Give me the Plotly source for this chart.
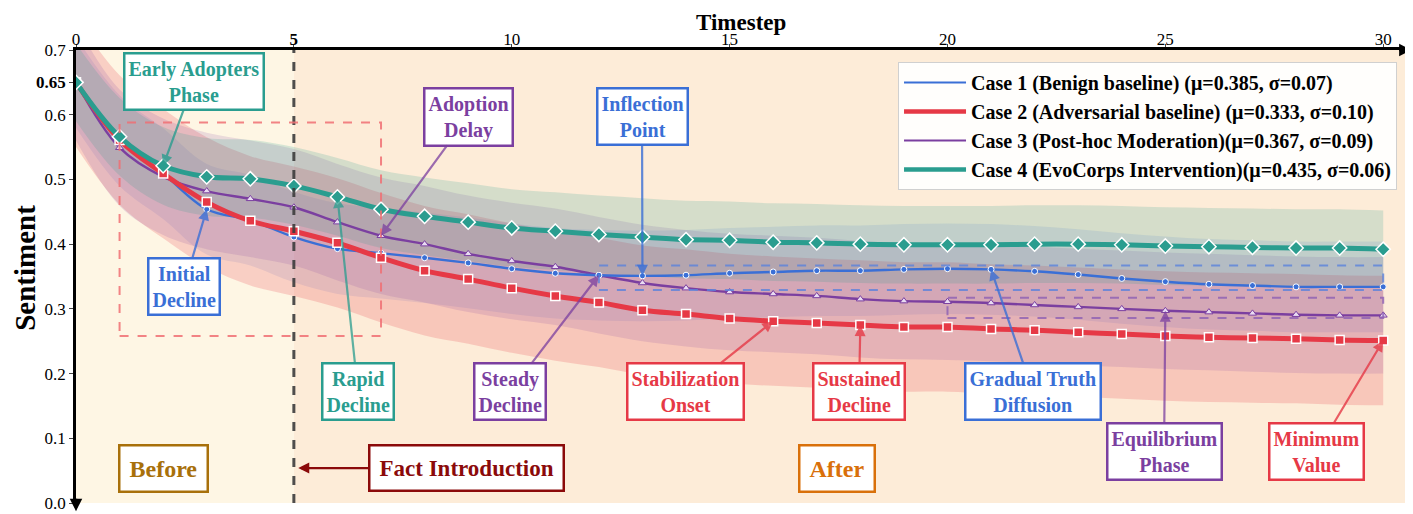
import plotly.graph_objects as go

timesteps = list(range(31))
case1 = [0.65, 0.56, 0.509, 0.454, 0.437, 0.411, 0.393, 0.386, 0.379, 0.371, 0.362, 0.355, 0.352, 0.351, 0.352,
         0.355, 0.357, 0.359, 0.359, 0.361, 0.362, 0.361, 0.358, 0.353, 0.347, 0.342, 0.338, 0.336, 0.334, 0.334, 0.334]
case2 = [0.65, 0.561, 0.509, 0.465, 0.436, 0.420, 0.402, 0.379, 0.359, 0.346, 0.332, 0.320, 0.310, 0.298, 0.292,
         0.285, 0.281, 0.278, 0.275, 0.272, 0.272, 0.269, 0.267, 0.264, 0.261, 0.258, 0.256, 0.255, 0.254, 0.252, 0.251]
case3 = [0.65, 0.549, 0.504, 0.482, 0.470, 0.457, 0.434, 0.413, 0.400, 0.385, 0.374, 0.365, 0.352, 0.340, 0.332,
         0.326, 0.323, 0.320, 0.315, 0.312, 0.311, 0.309, 0.306, 0.303, 0.300, 0.297, 0.295, 0.293, 0.291, 0.290, 0.290]
case4 = [0.65, 0.566, 0.521, 0.504, 0.501, 0.490, 0.473, 0.454, 0.443, 0.434, 0.425, 0.420, 0.415, 0.411, 0.407,
         0.406, 0.403, 0.402, 0.400, 0.399, 0.399, 0.399, 0.400, 0.400, 0.399, 0.397, 0.396, 0.395, 0.394, 0.394, 0.392]
sigmas = [0.07, 0.10, 0.09, 0.06]
names = ["Case 1 (Benign baseline) (μ=0.385, σ=0.07)",
         "Case 2 (Adversarial baseline) (μ=0.333, σ=0.10)",
         "Case 3 (Post-hoc Moderation)(μ=0.367, σ=0.09)",
         "Case 4 (EvoCorps Intervention)(μ=0.435, σ=0.06)"]
series = [case1, case2, case3, case4]

x_ticks = [0, 5, 10, 15, 20, 25, 30]
x_ticklabels = ["0", "<b>5</b>", "10", "15", "20", "25", "30"]
y_ticks = [0.0, 0.1, 0.2, 0.3, 0.4, 0.5, 0.6, 0.65, 0.7]
y_ticklabels = ["0.0", "0.1", "0.2", "0.3", "0.4", "0.5", "0.6", "<b>0.65</b>", "0.7"]

FONT = "Liberation Serif, Times New Roman, serif"
colors = ["#3a6fd6", "#e63946", "#7b3fa0", "#2a9d8f"]
band_rgba = ["rgba(58,111,214,0.13)", "rgba(230,57,70,0.20)", "rgba(123,63,160,0.15)", "rgba(42,157,143,0.19)"]
widths = [2.4, 5, 2.4, 5]
markers = [
    dict(symbol="circle", size=6, color=colors[0], line=dict(color="white", width=1)),
    dict(symbol="square", size=9, color=colors[1], line=dict(color="white", width=1.5)),
    dict(symbol="triangle-up", size=7, color="#e9dcf2", line=dict(color=colors[2], width=1)),
    dict(symbol="diamond", size=11, color=colors[3], line=dict(color="white", width=1.5)),
]

fig = go.Figure()

# confidence bands
for vals, s, bc in zip(series, sigmas, band_rgba):
    lo = [v - s for v in vals]
    hi = [v + s for v in vals]
    fig.add_trace(go.Scatter(x=timesteps, y=lo, mode="lines", line=dict(width=0, shape="spline"),
                             showlegend=False, hoverinfo="skip"))
    fig.add_trace(go.Scatter(x=timesteps, y=hi, mode="lines", line=dict(width=0, shape="spline"),
                             fill="tonexty", fillcolor=bc, showlegend=False, hoverinfo="skip"))

# lines (draw order: purple, blue, red, teal)
for i in [2, 0, 1, 3]:
    fig.add_trace(go.Scatter(x=timesteps, y=series[i], mode="lines+markers",
                             line=dict(color=colors[i], width=widths[i], shape="spline"),
                             marker=markers[i], showlegend=False))

# legend-only traces
for i in range(4):
    fig.add_trace(go.Scatter(x=[None], y=[None], mode="lines", name="<b>" + names[i] + "</b>",
                             line=dict(color=colors[i], width=widths[i] * 0.9)))

shapes = [
    dict(type="rect", xref="x", yref="paper", x0=0, x1=5, y0=0, y1=1, fillcolor="#fef6e4",
         line=dict(width=0), layer="below"),
    dict(type="rect", xref="x", yref="paper", x0=5, x1=30.5, y0=0, y1=1, fillcolor="#fdecd8",
         line=dict(width=0), layer="below"),
    dict(type="line", xref="x", yref="paper", x0=5, x1=5, y0=0, y1=1,
         line=dict(color="rgba(60,60,60,0.9)", width=3, dash="dash")),
    dict(type="rect", xref="x", yref="y", x0=1, x1=7, y0=0.258, y1=0.588,
         line=dict(color="rgba(240,110,115,0.85)", width=2, dash="dash")),
    dict(type="rect", xref="x", yref="y", x0=12, x1=30, y0=0.329, y1=0.367,
         line=dict(color="rgba(90,130,220,0.8)", width=2, dash="dash")),
    dict(type="rect", xref="x", yref="y", x0=20, x1=30, y0=0.286, y1=0.317,
         line=dict(color="rgba(140,95,180,0.8)", width=2, dash="dash")),
]

def box(text, cx, cy, px, py, col, acol, size=20, pad=3):
    return dict(x=px, y=py, ax=cx, ay=cy, xref="x", yref="y", axref="x", ayref="y",
                text="<b>" + text + "</b>", showarrow=True, arrowhead=2, arrowsize=1,
                arrowwidth=2.2, arrowcolor=acol, font=dict(family=FONT, size=size, color=col),
                bgcolor="white", bordercolor=col, borderwidth=2.5, borderpad=pad)

teal, purple, blue, red = colors[3], colors[2], colors[0], colors[1]
annotations = [
    box("Early Adopters<br>Phase", 2.71, 0.652, 2, case4[2], teal, "rgba(42,157,143,0.8)"),
    box("Adoption<br>Delay", 9.0, 0.597, 7, case3[7], purple, "rgba(123,63,160,0.75)"),
    box("Inflection<br>Point", 12.99, 0.597, 13, case1[13], blue, "rgba(58,111,214,0.8)"),
    box("Initial<br>Decline", 2.48, 0.335, 3, case1[3], blue, "rgba(58,111,214,0.8)"),
    box("Rapid<br>Decline", 6.47, 0.172, 6, case4[6], teal, "rgba(42,157,143,0.75)"),
    box("Steady<br>Decline", 9.96, 0.172, 12, case3[12], purple, "rgba(123,63,160,0.75)"),
    box("Stabilization<br>Onset", 13.98, 0.172, 16, case2[16], red, "rgba(230,57,70,0.8)"),
    box("Sustained<br>Decline", 17.97, 0.172, 18, case2[18], red, "rgba(230,57,70,0.8)"),
    box("Gradual Truth<br>Diffusion", 21.96, 0.172, 21, case1[21], blue, "rgba(58,111,214,0.8)"),
    box("Equilibrium<br>Phase", 24.97, 0.08, 25, case3[25], purple, "rgba(123,63,160,0.75)"),
    box("Minimum<br>Value", 28.48, 0.08, 30, case2[30], red, "rgba(230,57,70,0.8)"),
    box("Fact Introduction", 8.97, 0.054, 5.1, 0.054, "#8b0a0a", "#8b0a0a", size=23, pad=9),
    dict(x=2.0, y=0.054, xref="x", yref="y", text="<b>Before</b>", showarrow=False,
         font=dict(family=FONT, size=24, color="#a8700a"), bgcolor="white",
         bordercolor="#a8700a", borderwidth=2.5, borderpad=9),
    dict(x=17.47, y=0.054, xref="x", yref="y", text="<b>After</b>", showarrow=False,
         font=dict(family=FONT, size=24, color="#d9700a"), bgcolor="white",
         bordercolor="#d9700a", borderwidth=2.5, borderpad=9),
    # axis titles
    dict(x=0.5, y=1.0927, xref="paper", yref="paper", text="<b>Timestep</b>", showarrow=False,
         xanchor="center", yanchor="top", font=dict(family=FONT, size=23, color="black")),
    dict(x=-0.0384, y=0.519, xref="paper", yref="paper", text="<b>Sentiment</b>", showarrow=False,
         textangle=-90, xanchor="center", yanchor="middle",
         font=dict(family=FONT, size=29, color="black")),
    # axis arrows
    dict(x=1.005, y=1, xref="paper", yref="paper", ax=-14, ay=0, text="", showarrow=True,
         arrowhead=2, arrowsize=1, arrowwidth=2.5, arrowcolor="black"),
    dict(x=0, y=-0.018, xref="paper", yref="paper", ax=0, ay=-14, text="", showarrow=True,
         arrowhead=2, arrowsize=1, arrowwidth=2.5, arrowcolor="black"),
]

# the page body has an 8px margin, so the figure is 8px smaller and margins are offset
fig.update_layout(
    width=1405, height=506,
    margin=dict(l=68, r=8, t=42, b=11),
    paper_bgcolor="white", plot_bgcolor="white",
    font=dict(family=FONT, size=17, color="black"),
    shapes=shapes, annotations=annotations,
    legend=dict(x=0.994, y=0.9735, xanchor="right", yanchor="top", traceorder="normal",
                itemwidth=62,
                bgcolor="rgba(255,255,255,0.92)", bordercolor="#d0d0d0", borderwidth=1,
                font=dict(family=FONT, size=20, color="black")),
    xaxis=dict(range=[0, 30.5], side="top", tickvals=x_ticks, ticktext=x_ticklabels,
               showline=True, linecolor="black", linewidth=2.5, ticks="outside", ticklen=3,
               ticklabelstandoff=-8,
               showgrid=False, zeroline=False, tickfont=dict(size=17), automargin=False),
    yaxis=dict(range=[0, 0.7], tickvals=y_ticks, ticktext=y_ticklabels,
               showline=True, linecolor="black", linewidth=2.5, ticks="outside", ticklen=4,
               showgrid=False, zeroline=False, tickfont=dict(size=17), automargin=False),
)

fig.write_html("out.html")
